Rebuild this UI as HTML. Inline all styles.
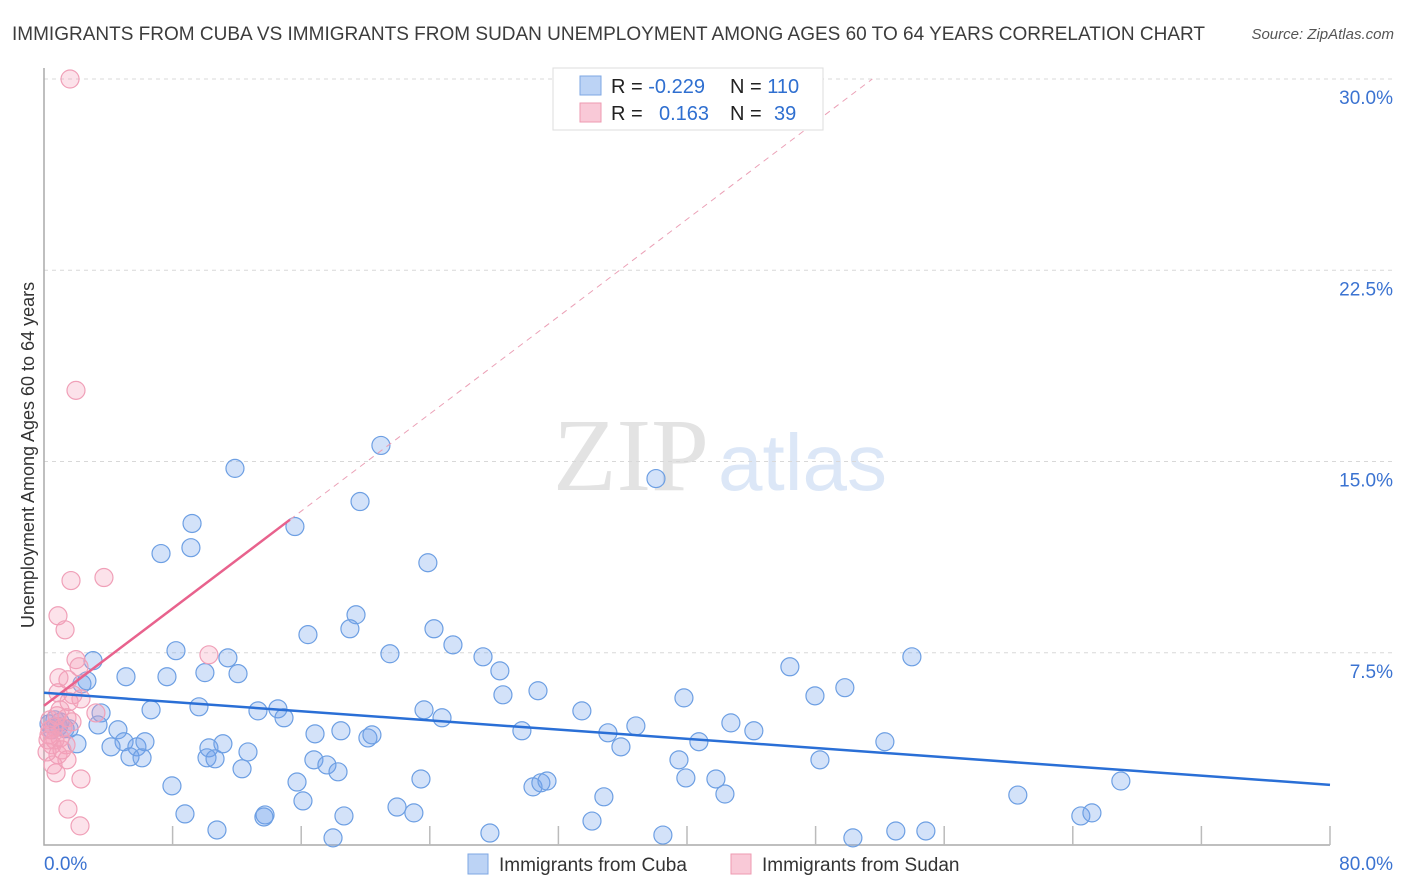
<!DOCTYPE html>
<html><head><meta charset="utf-8">
<style>
body{margin:0;background:#fff;font-family:"Liberation Sans",sans-serif;}
svg{display:block}
</style></head>
<body>
<svg id="chart" width="1406" height="892" xmlns="http://www.w3.org/2000/svg">
  <text x="12" y="40" font-size="19" fill="#3c3c3c">IMMIGRANTS FROM CUBA VS IMMIGRANTS FROM SUDAN UNEMPLOYMENT AMONG AGES 60 TO 64 YEARS CORRELATION CHART</text>
  <text x="1394" y="39" font-size="15" fill="#555" font-style="italic" text-anchor="end">Source: ZipAtlas.com</text>
  <g>
    <text x="553" y="490" font-family="Liberation Serif, serif" font-size="104" fill="#e3e3e3">ZIP</text>
    <text x="718" y="490" font-family="Liberation Sans, sans-serif" font-size="80" fill="#dce7f7">atlas</text>
  </g>
  <g id="grid"></g>
  <g id="axes"></g>
  <g id="pts"></g>
  <g id="lines"></g>
  <text transform="translate(34,455) rotate(-90)" font-size="18" fill="#333" text-anchor="middle">Unemployment Among Ages 60 to 64 years</text>
  <g>
    <rect x="553" y="68" width="270" height="62" fill="#fff" stroke="#ddd"/>
    <rect x="580" y="76" width="21" height="19" fill="#bcd3f5" stroke="#7ea7e3"/>
    <rect x="580" y="103" width="21" height="19" fill="#f9c9d7" stroke="#ee9ab0"/>
    <text x="611" y="93" font-size="20" fill="#222">R = <tspan fill="#2f6fd0">-0.229</tspan></text>
    <text x="730" y="93" font-size="20" fill="#222">N = <tspan fill="#2f6fd0">110</tspan></text>
    <text x="611" y="120" font-size="20" fill="#222">R = </text>
    <text x="659" y="120" font-size="20" fill="#2f6fd0">0.163</text>
    <text x="730" y="120" font-size="20" fill="#222">N = </text>
    <text x="774" y="120" font-size="20" fill="#2f6fd0">39</text>
  </g>
  <g>
    <rect x="468" y="854" width="20" height="20" fill="#bcd3f5" stroke="#7ea7e3"/>
    <text x="499" y="871" font-size="19" fill="#333">Immigrants from Cuba</text>
    <rect x="731" y="854" width="20" height="20" fill="#f9c9d7" stroke="#ee9ab0"/>
    <text x="762" y="871" font-size="19" fill="#333">Immigrants from Sudan</text>
  </g>
</svg>
<script>
const yTicks=[7.5,15,22.5,30];
const yTickLabels=["7.5%","15.0%","22.5%","30.0%"];
const xTickLabels=["0.0%","80.0%"];
const cubaX=[11.88,20.96,38.07,19.66,9.21,15.61,7.28,9.14,23.88,19.41,19.03,24.26,16.42,25.44,21.52,27.31,28.36,8.21,11.44,3.05,10.01,12.07,7.65,5.10,2.36,2.67,30.73,28.55,39.81,47.96,49.82,53.99,46.40,9.64,6.66,13.31,14.55,14.93,3.55,23.64,24.76,33.46,42.73,44.16,36.82,35.08,29.73,16.86,18.47,20.15,20.40,3.36,4.60,1.31,1.00,0.68,0.31,0.50,1.56,4.98,5.78,6.28,4.17,2.05,5.35,6.10,10.26,11.13,10.14,12.69,10.64,12.32,15.74,16.79,17.60,18.29,23.45,30.42,30.91,31.29,35.89,40.74,39.50,39.93,41.80,42.36,34.83,52.31,48.27,66.99,60.58,7.96,8.77,13.75,13.68,16.11,18.66,21.96,23.01,10.76,17.98,27.74,34.09,38.50,50.32,52.99,54.86,64.50,65.19,0.9];
const cubaY=[14.73,15.63,14.33,13.43,12.57,12.45,11.39,11.62,11.03,8.99,8.44,8.44,8.21,7.81,7.46,7.34,6.79,7.58,7.30,7.19,6.72,6.68,6.56,6.56,6.28,6.40,6.01,5.85,5.73,5.81,6.13,7.34,6.95,5.38,5.26,5.22,5.30,4.95,5.14,5.26,4.95,5.22,4.75,4.44,4.63,4.36,4.44,4.32,4.44,4.16,4.28,4.67,4.48,4.52,4.79,4.87,4.71,4.48,4.52,4.01,3.81,4.01,3.81,3.93,3.42,3.38,3.77,3.93,3.38,3.61,3.34,2.95,2.43,3.30,3.10,2.83,2.55,2.24,2.40,2.47,3.81,4.01,3.30,2.59,2.55,1.96,1.85,4.01,3.30,2.47,1.92,2.28,1.18,1.14,1.06,1.69,1.10,1.45,1.22,0.55,0.24,0.43,0.90,0.35,0.24,0.51,0.51,1.10,1.22,4.6];
const sudanX=[1.62,1.99,1.68,3.73,0.87,1.31,10.26,1.99,2.18,1.49,0.93,0.87,1.80,1.56,2.30,3.23,1.43,0.81,0.37,0.62,0.31,1.00,1.37,0.50,0.87,1.43,0.75,2.30,1.49,2.24,1.18,0.68,1.74,1.00,0.37,0.25,1.12,0.56,0.19];
const sudanY=[30.00,17.79,10.33,10.45,8.95,8.40,7.42,7.23,6.95,6.44,6.52,5.93,5.85,5.58,5.69,5.14,4.95,5.03,4.87,4.59,4.28,4.16,3.89,3.89,3.50,3.30,2.79,2.55,1.37,0.71,4.56,4.08,4.79,5.26,4.48,4.08,3.69,3.10,3.61];
const cubaTrend=[5.93,2.32];   // y at x=0 and x=80
const sudanTrend=[5.42,0.477]; // intercept, slope
const sudanSolidEnd=15.3;

const NS="http://www.w3.org/2000/svg";
const X0=44,X1=1330,Y0=844,YTOP=79;
const xs=v=>X0+v/80*(X1-X0);
const ys=v=>Y0-v/30*(Y0-YTOP);
function mk(tag,attrs,parent){const e=document.createElementNS(NS,tag);for(const k in attrs)e.setAttribute(k,attrs[k]);parent.appendChild(e);return e;}
const grid=document.getElementById('grid'),axes=document.getElementById('axes'),pts=document.getElementById('pts'),lines=document.getElementById('lines');
yTicks.forEach((t,i)=>{
  const l=mk('line',{x1:X0,x2:1393,y1:ys(t),y2:ys(t),stroke:'#d8d8d8','stroke-dasharray':'4,4'},grid);
  
  
  const tx=mk('text',{x:1393,y:ys(t)+25,'font-size':19,fill:'#3b73d1','text-anchor':'end'},axes);
  tx.textContent=yTickLabels[i];
  
  
});
const ax=mk('path',{d:`M${X0},68 V${Y0+1} H${X1}`,stroke:'#aaa','stroke-width':1.5,fill:'none'},axes);


for(let i=1;i<=10;i++){
  const t=mk('line',{x1:xs(i*8),x2:xs(i*8),y1:Y0-18,y2:Y0+1,stroke:'#bbb','stroke-width':1.5},axes);
  
  
}
const xl0=mk('text',{x:44,y:870,'font-size':19,fill:'#3b73d1'},axes);xl0.textContent=xTickLabels[0];


const xl1=mk('text',{x:1393,y:870,'font-size':19,fill:'#3b73d1','text-anchor':'end'},axes);xl1.textContent=xTickLabels[1];



cubaX.forEach((x,i)=>{
  const c=mk('circle',{cx:xs(x),cy:ys(cubaY[i]),r:9,fill:'rgba(110,160,235,0.3)',stroke:'#6d9fe3','stroke-width':1.2},pts);
  
  
});
sudanX.forEach((x,i)=>{
  const c=mk('circle',{cx:xs(x),cy:ys(sudanY[i]),r:9,fill:'rgba(245,160,185,0.3)',stroke:'#f0a0b8','stroke-width':1.2},pts);
  
  
});
const xEnd=(30-sudanTrend[0])/sudanTrend[1];
const pd=mk('line',{x1:xs(sudanSolidEnd),y1:ys(sudanTrend[0]+sudanTrend[1]*sudanSolidEnd),x2:xs(xEnd),y2:ys(30),stroke:'#eba0b6','stroke-width':1,'stroke-dasharray':'6,5'},lines);


const ps=mk('line',{x1:xs(0),y1:ys(sudanTrend[0]),x2:xs(sudanSolidEnd),y2:ys(sudanTrend[0]+sudanTrend[1]*sudanSolidEnd),stroke:'#e8628d','stroke-width':2.5},lines);


const bl=mk('line',{x1:xs(0),y1:ys(cubaTrend[0]),x2:xs(80),y2:ys(cubaTrend[1]),stroke:'#2a6fd6','stroke-width':2.5},lines);


</script>
</body></html>
